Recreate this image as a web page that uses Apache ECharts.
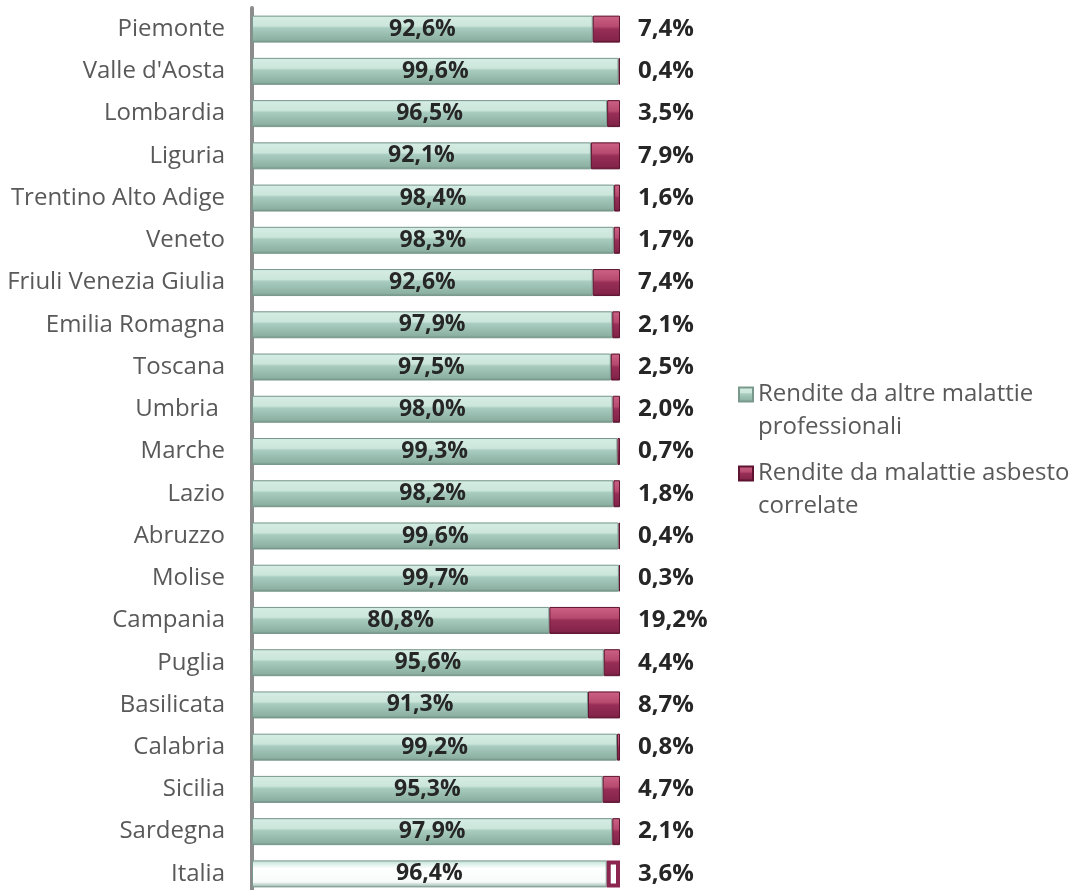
<!DOCTYPE html>
<html>
<head>
<meta charset="utf-8">
<script src="https://cdn.jsdelivr.net/npm/echarts@6/dist/echarts.min.js"></script>
<style>
  html, body { margin: 0; padding: 0; background: #fff; height: 890px; overflow: hidden; }
  #chart { width: 1071px; height: 896px; }
</style>
</head>
<body>
<div id="chart"></div>
<script>
// regioni, dall'alto verso il basso
var regioni = ['Piemonte', "Valle d'Aosta", 'Lombardia', 'Liguria', 'Trentino Alto Adige', 'Veneto',
  'Friuli Venezia Giulia', 'Emilia Romagna', 'Toscana', 'Umbria ', 'Marche', 'Lazio', 'Abruzzo',
  'Molise', 'Campania', 'Puglia', 'Basilicata', 'Calabria', 'Sicilia', 'Sardegna', 'Italia'];
var altreMalattie = [92.6, 99.6, 96.5, 92.1, 98.4, 98.3, 92.6, 97.9, 97.5, 98.0, 99.3, 98.2, 99.6,
  99.7, 80.8, 95.6, 91.3, 99.2, 95.3, 97.9, 96.4];
var asbesto = [7.4, 0.4, 3.5, 7.9, 1.6, 1.7, 7.4, 2.1, 2.5, 2.0, 0.7, 1.8, 0.4,
  0.3, 19.2, 4.4, 8.7, 0.8, 4.7, 2.1, 3.6];
var nomiSerie = ['Rendite da altre malattie professionali', 'Rendite da malattie asbesto correlate'];
// testo della legenda su due righe
var legendaRighe = ['Rendite da altre malattie\nprofessionali', 'Rendite da malattie asbesto\ncorrelate'];

var font = '"Open Sans", "Noto Sans", sans-serif';

function grad(stops) {
  return new echarts.graphic.LinearGradient(0, 0, 0, 1, stops.map(function (s) {
    return { offset: s[0], color: s[1] };
  }));
}
var verde = grad([[0, '#b8d6cb'], [0.06, '#d4ece3'], [0.38, '#cce6dc'], [0.46, '#a8ccbf'],
  [0.9, '#8cb1a3'], [1, '#6f8c81']]);
var bordeaux = grad([[0, '#b04468'], [0.06, '#c95f82'], [0.4, '#b74a6f'], [0.5, '#972e56'],
  [0.9, '#85244a'], [1, '#5e1430']]);
var verdeItalia = grad([[0, '#b8d6cb'], [0.1, '#d4ece3'], [0.3, '#ffffff'], [0.8, '#f7fbf9'], [1, '#8fb0a3']]);

function fmt(v) {
  return v.toFixed(1).replace('.', ',') + '%';
}

var dataVerde = altreMalattie.map(function (v, i) {
  if (regioni[i] === 'Italia') {
    return { value: v, itemStyle: { color: verdeItalia } };
  }
  return v;
});
var dataRosso = asbesto.map(function (v, i) {
  if (regioni[i] === 'Italia') {
    return { value: v, itemStyle: { color: '#ffffff', borderColor: '#8c2650', borderWidth: 4 } };
  }
  return v;
});

function legenda(i, top) {
  return {
    data: [nomiSerie[i]], orient: 'vertical', left: 733, top: top,
    itemWidth: 14, itemHeight: 14, icon: 'rect', itemGap: 0,
    // riga vuota davanti: così l'icona resta all'altezza della prima riga
    formatter: function () { return '\n' + legendaRighe[i]; },
    textStyle: { color: '#595959', fontSize: 24, lineHeight: 33, fontFamily: font }
  };
}

var myChart = echarts.init(document.getElementById('chart'));
myChart.setOption({
  animation: false,
  textStyle: { fontFamily: font },
  grid: { left: 252, top: 8, width: 368, height: 887, containLabel: false },
  xAxis: { type: 'value', min: 0, max: 100, show: false },
  yAxis: {
    type: 'category',
    inverse: true,
    data: regioni,
    axisLine: { show: true, lineStyle: { color: '#8c8c8c', width: 4 } },
    axisTick: { show: false },
    axisLabel: { color: '#595959', fontSize: 24, margin: 27, fontFamily: font }
  },
  legend: [legenda(0, 340), legenda(1, 419)],
  series: [
    {
      name: nomiSerie[0],
      type: 'bar',
      stack: 'tot',
      barWidth: 27,
      data: dataVerde,
      itemStyle: { color: verde, borderColor: '#7a998d', borderWidth: 1 },
      label: {
        show: true, position: 'inside', color: '#262626', fontWeight: 'bold', fontSize: 23,
        fontFamily: font,
        formatter: function (p) { return fmt(p.value); }
      }
    },
    {
      name: nomiSerie[1],
      type: 'bar',
      stack: 'tot',
      barWidth: 27,
      data: dataRosso,
      itemStyle: { color: bordeaux, borderColor: '#5e1430', borderWidth: 1 },
      label: {
        show: true, position: 'right', distance: 18, color: '#262626', fontWeight: 'bold', fontSize: 24,
        fontFamily: font,
        formatter: function (p) { return fmt(p.value); }
      }
    }
  ]
});
</script>
</body>
</html>
